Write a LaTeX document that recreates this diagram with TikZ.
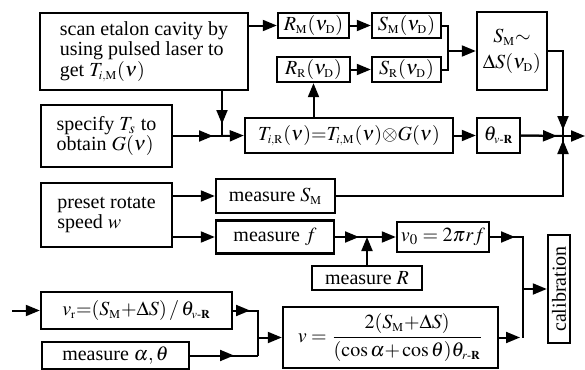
\documentclass[tikz,border=0pt]{standalone}
\usepackage{amsmath}
\usepackage{mathptmx}
\usepackage{fontspec}
\setmainfont{Liberation Serif}
\usetikzlibrary{arrows.meta}

\newcommand{\rmsub}[1]{_{\scriptscriptstyle\mathrm{#1}}}

\tikzset{
  box/.style={draw, line width=1.2pt, inner sep=1pt, font=\fontsize{10}{10.2}\selectfont},
  arr/.style={-{Triangle[length=7pt,width=5.5pt]}, line width=1pt},
  ln/.style={line width=1pt},
}

\begin{document}
\begin{tikzpicture}[x=0.5pt, y=-0.5pt]
    \useasboundingbox (0,0) rectangle (585,370);

    % left column
    \node[box, minimum width=104pt, minimum height=38.5pt, align=left] (S) at (144,51.5) {scan etalon cavity by\\using pulsed laser to\\get $T_{\scriptscriptstyle i,\mathrm{M}}(\nu)$};
    \node[box, minimum width=65.5pt, minimum height=31pt, align=left] (G) at (106.5,136) {specify $T_s$ to\\obtain $G(\nu)$};
    \node[box, minimum width=65.5pt, minimum height=32pt, align=left] (W) at (106.5,215) {preset rotate\\speed $w$};
    \node[box, minimum width=95.5pt, minimum height=18.5pt] (VR) at (136.5,310.5) {$v\rmsub{r}{=}(S\rmsub{M}{+}\Delta S)\,/\,\theta_{\scriptscriptstyle v\text{-}\mathbf{R}}$};
    \node[box, minimum width=73.5pt, minimum height=13.5pt] (MA) at (115.5,355.5) {measure $\alpha,\theta$};

    % upper branch
    \node[box, minimum width=35.5pt, minimum height=12.5pt] (RM) at (313.5,25.5) {$R\rmsub{M}(\nu\rmsub{D})$};
    \node[box, minimum width=36.5pt, minimum height=12.5pt] (RR) at (313.5,69.5) {$R\rmsub{R}(\nu\rmsub{D})$};
    \node[box, minimum width=34.5pt, minimum height=12.5pt] (SM) at (406.5,25.5) {$S\rmsub{M}(\nu\rmsub{D})$};
    \node[box, minimum width=34.5pt, minimum height=12.5pt] (SR) at (406.5,69.5) {$S\rmsub{R}(\nu\rmsub{D})$};
    \node[box, minimum width=35pt, minimum height=39pt, align=center] (DS) at (512,51) {$S\rmsub{M}{\sim}$\\[3pt]$\Delta S(\nu\rmsub{D})$};
    \node[box, minimum width=104pt, minimum height=17.5pt] (T) at (349,135.5) {$T_{\scriptscriptstyle i,\mathrm{R}}(\nu){=}T_{\scriptscriptstyle i,\mathrm{M}}(\nu){\otimes}G(\nu)$};
    \node[box, minimum width=21.5pt, minimum height=17.5pt] (TH) at (498.5,135.5) {$\theta_{\scriptscriptstyle v\text{-}\mathbf{R}}$};

    % lower branch
    \node[box, minimum width=59.5pt, minimum height=17pt] (MS) at (275.5,196) {measure $S\rmsub{M}$};
    \node[box, minimum width=59pt, minimum height=16.5pt] (MF) at (275,237) {measure $f$};
    \node[box, minimum width=46pt, minimum height=15pt] (V0) at (443,237) {$v_0=2\pi rf$};
    \node[box, minimum width=55pt, minimum height=12pt] (MR) at (367,278) {measure $R$};
    \node[box, rotate=90, minimum width=54pt, minimum height=11pt] (CAL) at (559,289) {calibration};
    \node[box, minimum width=107.5pt, minimum height=30.5pt] (V) at (390.5,337.5) {$v=\dfrac{2(S\rmsub{M}{+}\Delta S)}{(\cos\alpha{+}\cos\theta)\theta_{\scriptscriptstyle r\text{-}\mathbf{R}}}$};

    % junctions
    \coordinate (j1) at (222,136);
    \coordinate (j2) at (448,51);
    \coordinate (j3) at (563,136);
    \coordinate (out) at (585,136);
    \coordinate (j4) at (367,237);
    \coordinate (j5) at (523,237);
    \coordinate (j6) at (523,289);
    \coordinate (j7) at (523,337.5);
    \coordinate (j8) at (258,310.5);
    \coordinate (j9) at (258,337.5);
    \coordinate (j10) at (258,355.5);
    \coordinate (in) at (12,310.5);

    % connectors
    \draw[ln] (G.east) -- (j1);
    \draw[arr] (G.east) -- ([xshift=-4.5pt]j1);
    \draw[arr] (j1) -- (T.west);
    \draw[ln] (S.south -| j1) -- (j1);
    \draw[arr] (S.south -| j1) -- ([yshift=6pt]j1);
    \draw[arr] (RR.south |- T.north) -- (RR.south);
    \draw[arr] (S.east |- RM.west) -- (RM.west);
    \draw[arr] (RM) -- (SM);
    \draw[arr] (RR) -- (SR);
    \draw[ln] (SM.east) -| (j2);
    \draw[ln] (SR.east) -| (j2);
    \draw[arr] (j2) -- (DS.west);
    \draw[ln] (DS.east) -| (j3);
    \draw[arr] (DS.east -| j3) -- ([yshift=3pt]j3);
    \draw[arr] (T) -- (TH);
    \draw[ln] (TH.east) -- (j3);
    \draw[arr] (TH.east) -- ([xshift=-3pt]j3);
    \draw[arr] (j3) -- (out);
    \draw[ln] (MS.east) -| (j3);
    \draw[arr] (MS.east -| j3) -- ([yshift=-2pt]j3);
    \draw[arr] (W.east |- MS.west) -- (MS.west);
    \draw[arr] (W.east |- MF.west) -- (MF.west);
    \draw[ln] (MF.east) -- (j4);
    \draw[arr] (MF.east) -- ([xshift=-4pt]j4);
    \draw[arr] (j4) -- (V0.west);
    \draw[arr] (MR.north) -- (j4);
    \draw[ln] (V0.east) -- (j5) -- (j7);
    \draw[arr] (V0.east) -- ([xshift=-4pt]j5);
    \draw[arr] (j6) -- (CAL);
    \draw[arr] (V.east) -- ([xshift=-1.5pt]j7);
    \draw[arr] (in) -- (VR.west);
    \draw[ln] (VR.east) -- (j8) -- (j10);
    \draw[arr] (VR.east) -- ([xshift=-4pt]j8);
    \draw[ln] (MA.east) -- (j10);
    \draw[arr] (MA.east) -- ([xshift=-12pt]j10);
    \draw[arr] (j9) -- (V.west);
\end{tikzpicture}
\end{document}
